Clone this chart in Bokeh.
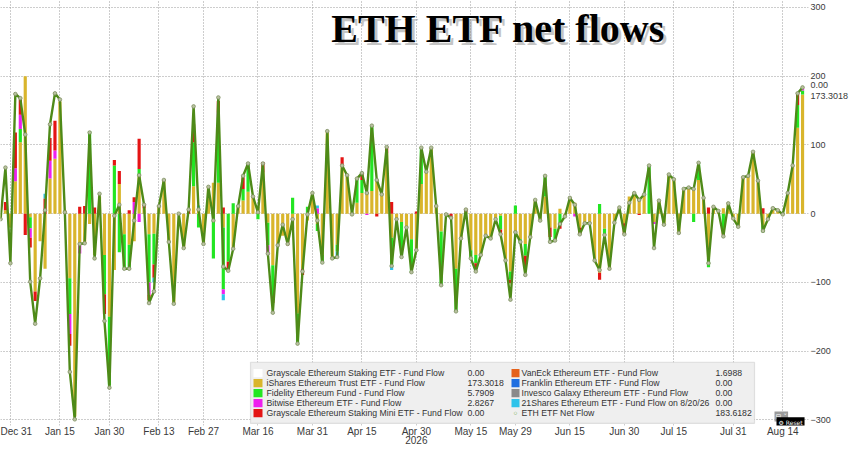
import numpy as np
import pandas as pd
from bokeh.plotting import figure
from bokeh.models import Range1d, FixedTicker, LinearAxis, Label, BoxAnnotation, ColumnDataSource
from bokeh.embed import file_html
from bokeh.resources import INLINE

# ---------------- data ----------------
start_date = "2025-12-29"
end_date = "2026-08-20"
market_holidays = ["2026-01-01", "2026-01-19", "2026-02-16", "2026-04-03", "2026-05-25", "2026-07-03"]

tick_dates = ["2025-12-31", "2026-01-15", "2026-01-30", "2026-02-13", "2026-02-27", "2026-03-16",
              "2026-03-31", "2026-04-15", "2026-04-30", "2026-05-15", "2026-05-29", "2026-06-15",
              "2026-06-30", "2026-07-15", "2026-07-31", "2026-08-14"]
tick_labels = ["Dec 31", "Jan 15", "Jan 30", "Feb 13", "Feb 27", "Mar 16", "Mar 31", "Apr 15",
               "Apr 30", "May 15", "May 29", "Jun 15", "Jun 30", "Jul 15", "Jul 31", "Aug 14"]
year_tick_date = "2026-04-30"
year_label = "2026"
y_ticks = [-300, -200, -100, 0, 100, 200, 300]

# ETH ETF net flow (line), USD mn, one value per trading day
net_flow = [
    -8, 67, -72, 174, 168, 115, -99, -160, -94, 5,
    130, 175, 166, 2, -230, -299, -44, -43, 118, -65,
    29, -156, -253, -3, 13, -80, -80, -10, 56, 13,
    -130, -113, 11, 49, -41, -131, 0, -50, 6, 156,
    6, -44, 39, -10, 169, -77, -83, -51, 11, 55,
    73, 25, 2, 73, -58, -144, -46, -16, -44, -8,
    -189, -84, -1, 30, -10, -71, 120, -65, -63, 70,
    56, -1, 51, 59, 30, 128, 49, 28, 97, -76,
    -8, -63, -20, -85, -53, 96, 61, 96, 11, -104,
    -1, -6, -142, -36, 6, -65, -84, -60, -32, -36,
    -8, -30, -68, -125, -27, -41, -89, -34, 20, -10,
    55, -41, -39, -15, -4, 23, 13, -30, -14, -14,
    -68, -82, -31, -80, -13, 9, -30, 16, 30, 20,
    28, 70, -50, 19, -16, 57, 50, -28, 36, 38,
    36, 74, 23, -72, 10, 4, -33, 15, -7, -19,
    53, 55, 90, 48, -25, -8, 8, 5, -1, 30,
    70, 175, 183.6182]

# iShares Ethereum Trust ETF - Fund Flow
ishares = [
    -8, 5, -20, 47, 104, 200, -5, -113, -40, -80,
    51, 80, 163, 5, -94, -295, -43, -43, -15, -60,
    25, -60, -150, -82, 43, -30, -45, -40, 55, 8,
    -30, -29, 12, 49, -41, -130, -2, -50, 0, 40,
    8, -44, 40, 45, 45, -20, 0, -50, 11, 19,
    32, 25, 10, 60, -13, -75, -48, -32, -38, -22,
    -145, -80, -10, 28, -15, -60, 120, -65, -45, 70,
    54, 3, 16, 30, 30, 33, 49, 30, 88, -35,
    -8, -12, -20, -37, -53, 43, 61, 96, 11, -26,
    -1, 0, -80, -36, 2, -53, -60, -60, -32, -36,
    -8, -3, -68, -84, -27, -37, -44, -34, 20, -10,
    25, -20, -22, 7, -4, 23, 16, -20, -14, -14,
    -68, -86, -22, -80, -13, 9, -14, 25, 30, 20,
    28, 0, -12, 19, -16, 57, 50, -28, 36, 38,
    36, 49, 23, -64, 10, 4, 8, 15, -7, -19,
    53, 55, 90, 48, -17, -8, 8, 3, -1, 30,
    70, 125, 173.3018]

# sparse series: {trading-day number: flow}
fidelity = {4: 19, 6: -16, 14: -52, 18: 120, 21: -57, 22: -100, 23: 70, 24: -56, 25: -50, 26: -35,
            28: 10, 30: -70, 31: -45, 39: 64, 40: -20, 43: -65, 44: 95, 45: -90, 46: -70, 47: 15,
            49: 17, 50: 41, 52: -8, 54: -33, 55: -45, 59: 23, 60: -43, 62: 10, 64: -10, 65: -10,
            68: -10, 72: 35, 73: 19, 75: 95, 79: -40, 81: -50, 83: -48, 85: 54, 89: -77, 92: -63,
            95: -12, 96: -12, 101: -20, 103: -12, 104: 12, 105: -7, 106: -17, 110: 30, 112: -17,
            113: -17, 121: 14, 122: -9, 131: 70, 140: -12, 141: 24, 143: -14, 146: -25, 154: -10,
            161: 33, 162: 5.7909}
bitwise = {3: 19, 4: 21, 6: -14, 10: 26, 11: 12, 14: -29, 16: -15, 27: 17, 28: -12, 30: -18,
           44: 7, 45: -7, 54: -12, 64: 8, 74: -2, 116: -4, 132: -3, 162: 2.8267}
gs_mini = {1: 12, 3: 52, 4: 22, 5: -31, 6: -14, 7: -14, 9: 22, 10: 33, 11: 43, 14: -17, 16: 10,
           17: 11, 19: 9, 21: -29, 23: 8, 24: 19, 26: 5, 27: 7, 28: 44, 29: 5, 30: -8, 31: -19,
           38: 6, 39: 26, 44: 17, 45: 9, 46: -12, 49: 17, 53: 15, 55: -10, 58: -8, 61: -9, 69: 12,
           73: 10, 76: -4, 78: 9, 79: 17, 84: 3, 91: -6, 94: 5, 96: -8, 101: -7, 103: -5, 106: -17,
           111: -14, 113: -5, 117: -10, 121: -10, 126: -16, 129: -2, 143: 9, 146: -6, 154: 8,
           157: 3, 161: 17}
vaneck = {162: 1.6988}
franklin = {}
invesco = {}
shares21 = {9: 7, 31: -7, 40: 4, 45: -9, 64: 4, 68: -8, 79: -7}
gs_staking = {}

# ---------------- build ----------------
dates = pd.bdate_range(start_date, end_date, freq="C", holidays=market_holidays)
n = len(dates)
idx = np.arange(n)
date_pos = {d.strftime("%Y-%m-%d"): i for i, d in enumerate(dates)}


def full(v):
    if isinstance(v, dict):
        a = np.zeros(n)
        for k, val in v.items():
            a[k] = val
        return a
    return np.asarray(v, dtype=float)


GOLD = "#d9b52c"
GREEN = "#22e622"
MAGENTA = "#ee1fee"
RED = "#e41414"
ORANGE = "#e5621c"
BLUE = "#1f6fe0"
GRAY = "#8a8a8a"
CYAN = "#2fc3ea"
LINE = "#4e8a18"
FONT = "Liberation Sans"

series = [
    ("Grayscale Ethereum Staking ETF - Fund Flow", gs_staking, "#ffffff"),
    ("iShares Ethereum Trust ETF - Fund Flow", ishares, GOLD),
    ("Fidelity Ethereum Fund - Fund Flow", fidelity, GREEN),
    ("Bitwise Ethereum ETF - Fund Flow", bitwise, MAGENTA),
    ("Grayscale Ethereum Staking Mini ETF - Fund Flow", gs_mini, RED),
    ("VanEck Ethereum ETF - Fund Flow", vaneck, ORANGE),
    ("Franklin Ethereum ETF - Fund Flow", franklin, BLUE),
    ("Invesco Galaxy Ethereum ETF - Fund Flow", invesco, GRAY),
    ("21Shares Ethereum ETF - Fund Flow on 8/20/26", shares21, CYAN),
]

p = figure(width=851, height=446, output_backend="svg", toolbar_location=None,
           x_range=Range1d(0.0, 163.2), y_range=Range1d(-308, 310),
           y_axis_location="right", min_border=0, min_border_left=0, min_border_top=0,
           min_border_right=0, min_border_bottom=0, background_fill_color="white",
           border_fill_color="white", outline_line_color=None)

pos_base = np.zeros(n)
neg_base = np.zeros(n)
for name, vals, color in series:
    v = full(vals)
    bottom = np.where(v >= 0, pos_base, neg_base)
    top = bottom + v
    pos_base = np.where(v >= 0, top, pos_base)
    neg_base = np.where(v < 0, top, neg_base)
    keep = v != 0
    if keep.any():
        src = ColumnDataSource(dict(x=idx[keep], bottom=bottom[keep], top=top[keep]))
        p.vbar(x="x", bottom="bottom", top="top", width=0.64, fill_color=color,
               line_color=None, source=src)

net = np.asarray(net_flow, dtype=float)
ish = full(ishares)
p.line(idx, net, line_color=LINE, line_width=2.4)
p.scatter(idx, net, size=3.6, marker="circle", fill_color="#b9c2a0", line_color="#7f8f62",
          line_width=0.8)


def slim(ax):
    ax.axis_label = None
    ax.axis_label_standoff = 0
    ax.axis_label_text_font_size = "0px"
    ax.axis_line_color = None
    ax.major_tick_line_color = None
    ax.minor_tick_line_color = None
    ax.major_tick_out = 0
    ax.major_tick_in = 0
    ax.minor_tick_out = 0
    ax.minor_tick_in = 0
    ax.major_label_text_font = FONT
    ax.major_label_text_color = "#3a3a3a"


# x axes
tick_pos = [date_pos[d] for d in tick_dates]
xa = p.xaxis[0]
slim(xa)
xa.ticker = FixedTicker(ticks=tick_pos)
xa.major_label_overrides = {t: lab for t, lab in zip(tick_pos, tick_labels)}
xa.major_label_standoff = 0
xa.major_label_text_font_size = "10px"

yr = LinearAxis(ticker=FixedTicker(ticks=[date_pos[year_tick_date]]),
                major_label_overrides={date_pos[year_tick_date]: year_label})
slim(yr)
yr.major_label_standoff = -4
yr.major_label_text_font_size = "10px"
p.add_layout(yr, "below")

# y axis (right), with the last-value tags of the net flow and iShares series
tag_net = round(float(net[-1]) + 3, 4)
tag_ish = round(float(ish[-1]) - 2, 4)
ya = p.yaxis[0]
slim(ya)
ya.ticker = FixedTicker(ticks=y_ticks + [tag_net, tag_ish])
ya.major_label_overrides = {tag_net: "0.00", tag_ish: f"{ish[-1]:.4f}"}
ya.major_label_standoff = 2
ya.major_label_text_font_size = "9px"

p.xgrid.ticker = FixedTicker(ticks=tick_pos)
p.ygrid.ticker = FixedTicker(ticks=y_ticks)
for g in (p.xgrid, p.ygrid):
    g.grid_line_color = "#9a9a9a"
    g.grid_line_dash = "1 2"
    g.grid_line_width = 1

# title with shadow (x in screen px from the frame's left edge)
title_text = "ETH ETF net flows"
p.add_layout(Label(x=498, y=236, x_units="screen", text=title_text, text_font="Liberation Serif",
                   text_font_size="40px", text_font_style="bold", text_color="#8a8a8a",
                   text_align="center", text_alpha=0.5, x_offset=3, y_offset=-3))
p.add_layout(Label(x=498, y=236, x_units="screen", text=title_text, text_font="Liberation Serif",
                   text_font_size="40px", text_font_style="bold", text_color="black",
                   text_align="center"))


# legend (manual, two columns with last values)
def fmt(v):
    return "0.00" if v == 0 else f"{v:.4f}"


entries = [(name, color, fmt(full(vals)[-1])) for name, vals, color in series]
entries.append(("ETH ETF Net Flow", None, fmt(net[-1])))
col1 = entries[0:5]
col2 = entries[5:10]

p.add_layout(BoxAnnotation(left=250, right=754, left_units="screen", right_units="screen",
                           top=-216, bottom=-305, fill_color="#efefef", fill_alpha=1,
                           line_color="#a9a9a9", line_width=1.2, level="overlay"))
row_y = [-232, -246.5, -261, -275.5, -290]
for col, (sw_l, sw_r, tx, vx) in zip((col1, col2), ((253, 262, 266, 467),
                                                   (511, 519, 521, 715))):
    for (name, color, val), y in zip(col, row_y):
        if color is not None:
            p.add_layout(BoxAnnotation(left=sw_l, right=sw_r, left_units="screen",
                                       right_units="screen", top=y + 6, bottom=y - 6,
                                       fill_color=color, fill_alpha=1, line_color=None,
                                       level="overlay"))
        else:
            p.add_layout(Label(x=(sw_l + sw_r) / 2, y=y, x_units="screen", text="\u25e6",
                               text_font="DejaVu Sans", text_font_size="10px",
                               text_color="#4e9a18", text_align="center",
                               text_baseline="middle", level="overlay"))
        p.add_layout(Label(x=tx, y=y, x_units="screen", text=name, text_font=FONT,
                           text_font_size="8.7px", text_color="#333333", text_baseline="middle",
                           level="overlay"))
        p.add_layout(Label(x=vx, y=y, x_units="screen", text=val, text_font=FONT,
                           text_font_size="8.7px", text_color="#333333", text_baseline="middle",
                           level="overlay"))

# chart widget buttons
p.add_layout(Label(x=774, y=-295, x_units="screen", text="\u229f \u02c5", text_font="DejaVu Sans",
                   text_font_size="7px", text_color="#ffffff", text_baseline="middle",
                   background_fill_color="#9a9a9a", padding=1, level="overlay"))
p.add_layout(Label(x=776, y=-304, x_units="screen", text="\u2699 Reset", text_font="DejaVu Sans",
                   text_font_size="6px", text_color="white", text_baseline="middle",
                   background_fill_color="black", padding=2, level="overlay"))

open("out.html", "w").write(file_html(p, INLINE))
